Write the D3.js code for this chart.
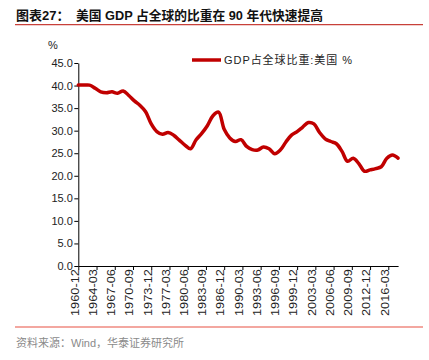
<!DOCTYPE html>
<html>
<head>
<meta charset="utf-8">
<script src="https://cdn.jsdelivr.net/npm/d3@7"></script>
<style>
  html, body { margin: 0; padding: 0; background: #fff; }
  svg { display: block; }
</style>
</head>
<body>
<svg id="chart" width="429" height="360"></svg>
<script>
// ---- data ----
const years = d3.range(1960, 2018);
const usShare = [
  40.1, 40.1, 40.1, 39.4, 38.6, 38.4, 38.6, 38.3, 38.8, 37.8,
  36.6, 35.6, 34.2, 31.5, 29.8, 29.2, 29.6, 29.0, 27.9, 26.8,
  26.0, 28.0, 29.4, 31.1, 33.3, 34.1, 30.3, 28.4, 27.6, 28.0,
  26.5, 25.8, 25.7, 26.4, 26.0, 24.9, 25.7, 27.5, 29.0, 29.8,
  30.8, 31.8, 31.5, 29.6, 28.2, 27.6, 27.1, 25.4, 23.2, 23.9,
  22.7, 21.0, 21.3, 21.6, 22.0, 23.9, 24.6, 23.9
];
const xTickLabels = ["1960-12","1964-03","1967-06","1970-09","1973-12","1977-03","1980-06",
  "1983-09","1986-12","1990-03","1993-06","1996-09","1999-12","2003-03","2006-06",
  "2009-09","2012-12","2016-03"];
const yTicks = d3.range(0, 46, 5);
const titleLabel = "图表27：";
const titleText = "美国 GDP 占全球的比重在 90 年代快速提高";
const seriesName = "GDP占全球比重:美国 %";
const sourceText = "资料来源：Wind，华泰证券研究所";

// ---- helpers ----
const toMonths = s => { const [y, m] = s.split("-").map(Number); return y * 12 + m; };
const data = years.map((y, i) => ({ t: y * 12 + 12, v: usShare[i] }));

const svg = d3.select("#chart");
const latin = "'Liberation Sans', Arial, 'Noto Sans CJK SC', sans-serif";

const x = d3.scaleLinear()
  .domain([d3.min(data, d => d.t), d3.max(data, d => d.t)])
  .range([78.3, 398.1]);
const y = d3.scaleLinear().domain([0, 45]).range([266, 63]);

// ---- title ----
svg.append("text").attr("x", 16).attr("y", 19.5)
  .attr("font-family", latin).attr("font-weight", "bold").attr("font-size", 13)
  .attr("fill", "#111").text(titleLabel);
svg.append("text").attr("x", 76).attr("y", 19.5)
  .attr("font-family", latin).attr("font-weight", "bold").attr("font-size", 13)
  .attr("textLength", 247).attr("lengthAdjust", "spacingAndGlyphs")
  .attr("fill", "#111").text(titleText);
svg.append("line").attr("x1", 15).attr("x2", 423).attr("y1", 24.7).attr("y2", 24.7)
  .attr("stroke", "#C8403A").attr("stroke-width", 1.2);

// ---- y axis ----
const yAxis = svg.append("g").attr("transform", `translate(${x.range()[0]},0)`)
  .call(d3.axisLeft(y).tickValues(yTicks).tickFormat(d3.format(".1f")).tickSize(4).tickPadding(1.5).tickSizeOuter(0));
yAxis.selectAll("text").attr("font-family", latin).attr("font-size", 11).attr("fill", "#222");
yAxis.selectAll("line, path").attr("stroke", "#000");

svg.append("text").attr("x", 53).attr("y", 49)
  .attr("text-anchor", "middle")
  .attr("font-family", latin).attr("font-size", 11).attr("fill", "#222").text("%");

// ---- x axis ----
const xAxis = svg.append("g").attr("transform", `translate(0,${y(0)})`)
  .call(d3.axisBottom(x).tickValues(xTickLabels.map(toMonths)).tickFormat("").tickSize(4).tickSizeOuter(0));
xAxis.selectAll("line, path").attr("stroke", "#000");

svg.append("g").selectAll("text").data(xTickLabels).join("text")
  .attr("transform", d => `translate(${x(toMonths(d)) + 0.3},${y(0) + 3})rotate(-90)`)
  .attr("text-anchor", "end")
  .attr("font-family", latin).attr("font-size", 10).attr("fill", "#222")
  .attr("textLength", 47).attr("lengthAdjust", "spacingAndGlyphs")
  .text(d => d);

// ---- line ----
const line = d3.line().x(d => x(d.t)).y(d => y(d.v)).curve(d3.curveCatmullRom.alpha(0.5));
svg.append("path").datum(data)
  .attr("d", line)
  .attr("fill", "none").attr("stroke", "#C00000").attr("stroke-width", 3.5)
  .attr("stroke-linejoin", "round").attr("stroke-linecap", "round");

// ---- legend ----
svg.append("line").attr("x1", 192).attr("x2", 221).attr("y1", 60).attr("y2", 60)
  .attr("stroke", "#C00000").attr("stroke-width", 3.5);
svg.append("text").attr("x", 224).attr("y", 64)
  .attr("font-family", latin).attr("font-size", 11).attr("fill", "#222")
  .attr("textLength", 128).attr("lengthAdjust", "spacing")
  .text(seriesName);

// ---- footer ----
svg.append("line").attr("x1", 15).attr("x2", 423).attr("y1", 327).attr("y2", 327)
  .attr("stroke", "#EF8A80").attr("stroke-width", 1.5);
svg.append("text").attr("x", 16).attr("y", 346.5)
  .attr("font-family", latin).attr("font-size", 11).attr("fill", "#8a8a8a")
  .text(sourceText);
</script>
</body>
</html>
